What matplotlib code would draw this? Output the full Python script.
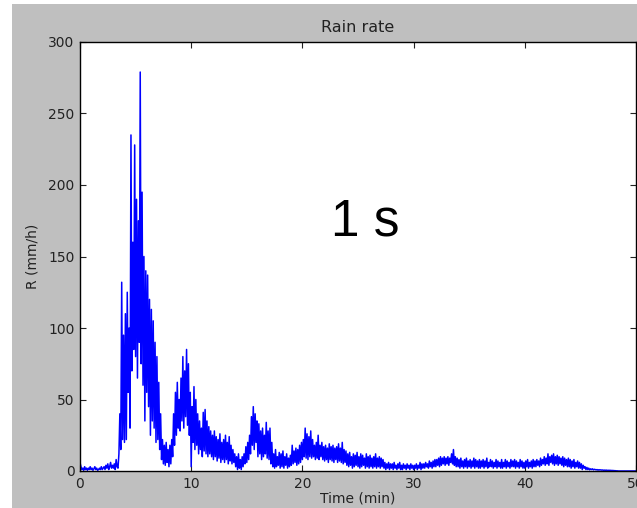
import numpy as np
import matplotlib
matplotlib.use("Agg")
import matplotlib.pyplot as plt
from matplotlib.patches import Rectangle

# Rain rate (mm/h), one value every 5 s; one row per minute
rate_00_10 = [
    6, 3, 1, 2, 0.5, 3, 1, 2, 0.5, 2, 1, 3,
    1, 2, 0.5, 1.5, 3, 1, 2, 0.5, 1, 2, 1, 3,
    1, 2, 3, 1, 4, 2, 5, 1, 3, 6, 2, 4,
    2, 5, 1, 8, 3, 2, 12, 40, 15, 132, 22, 95,
    20, 110, 22, 125, 55, 100, 30, 235, 70, 160, 85, 228,
    80, 190, 65, 175, 90, 279, 75, 195, 60, 150, 35, 140,
    55, 137, 45, 120, 25, 113, 35, 105, 30, 90, 20, 80,
    22, 62, 15, 40, 8, 22, 5, 18, 4, 20, 6, 15,
    3, 18, 5, 22, 10, 40, 18, 55, 25, 62, 30, 50,
    28, 65, 35, 80, 30, 70, 38, 85, 32, 75, 25, 55,
]
rate_10_20 = [
    3, 45, 20, 59, 15, 50, 18, 40, 12, 35, 15, 30,
    10, 41, 14, 43, 12, 35, 10, 31, 12, 28, 10, 25,
    8, 28, 10, 24, 7, 22, 9, 26, 6, 20, 8, 22,
    6, 25, 8, 20, 5, 24, 7, 18, 5, 15, 6, 12,
    3, 10, 1, 12, 2, 8, 1, 10, 3, 12, 5, 17,
    6, 20, 8, 25, 12, 38, 18, 45, 15, 40, 20, 35,
    10, 33, 12, 28, 8, 30, 10, 25, 12, 34, 9, 28,
    8, 30, 5, 20, 3, 12, 2, 15, 3, 10, 4, 13,
    2, 12, 3, 14, 2, 10, 4, 12, 2, 9, 3, 11,
    4, 18, 5, 14, 6, 16, 4, 15, 5, 18, 6, 20,
]
rate_20_30 = [
    8, 22, 10, 30, 9, 26, 8, 24, 10, 28, 9, 22,
    10, 18, 8, 20, 9, 25, 8, 18, 10, 20, 8, 17,
    7, 18, 8, 16, 6, 19, 8, 17, 7, 18, 6, 16,
    8, 17, 6, 19, 7, 16, 6, 20, 5, 15, 6, 14,
    4, 12, 3, 13, 4, 10, 2, 12, 3, 11, 4, 13,
    3, 10, 2, 12, 3, 11, 4, 9, 2, 12, 3, 10,
    2, 11, 3, 9, 2, 10, 3, 12, 2, 9, 3, 10,
    2, 9, 3, 8, 2, 6, 1, 5, 2, 6, 1, 5,
    2, 5, 1, 6, 2, 4, 1, 5, 2, 6, 1, 4,
    1, 5, 2, 4, 1, 5, 2, 4, 1, 5, 2, 4,
]
rate_30_40 = [
    1, 4, 2, 5, 1, 4, 2, 6, 1, 5, 2, 5,
    2, 6, 3, 5, 2, 7, 3, 6, 2, 7, 3, 8,
    3, 8, 4, 9, 3, 10, 4, 9, 5, 10, 4, 9,
    5, 10, 4, 9, 6, 12, 5, 15, 4, 10, 3, 9,
    3, 8, 2, 9, 3, 7, 2, 8, 3, 9, 2, 7,
    3, 8, 2, 7, 3, 9, 2, 8, 3, 7, 2, 8,
    2, 7, 3, 8, 2, 7, 3, 9, 2, 6, 3, 8,
    3, 7, 2, 6, 3, 8, 2, 7, 3, 6, 2, 8,
    2, 6, 3, 8, 2, 7, 3, 6, 2, 8, 3, 7,
    3, 8, 2, 7, 3, 6, 2, 8, 3, 7, 2, 6,
]
rate_40_50 = [
    2, 7, 3, 8, 2, 6, 3, 7, 2, 8, 3, 7,
    3, 8, 4, 7, 3, 9, 4, 8, 5, 10, 4, 9,
    5, 12, 4, 10, 6, 11, 5, 12, 4, 10, 5, 11,
    4, 10, 5, 9, 4, 10, 3, 9, 4, 8, 3, 9,
    3, 8, 2, 7, 3, 8, 2, 6, 3, 7, 2, 6,
    2, 5, 1, 4, 2, 3, 1, 2.5, 1, 2, 0.8, 1.5,
    1, 1.5, 0.8, 1.2, 1, 0.8, 1, 0.6, 0.9, 0.7, 0.8, 0.6,
    0.7, 0.5, 0.6, 0.5, 0.6, 0.4, 0.5, 0.4, 0.5, 0.3, 0.4, 0.3,
    0.3, 0.2, 0.2, 0.1, 0.1, 0, 0, 0, 0, 0, 0, 0,
    0, 0, 0, 0, 0, 0, 0, 0, 0, 0, 0, 0, 0,
]

rate = np.array(rate_00_10 + rate_10_20 + rate_20_30 + rate_30_40 + rate_40_50,
                dtype=float)
t_min = np.arange(len(rate)) * 5.0 / 60.0   # 5 s steps -> minutes

x_ticks = [0, 10, 20, 30, 40, 50]
y_ticks = [0, 50, 100, 150, 200, 250, 300]

fig = plt.figure(figsize=(6.37, 5.08), dpi=100, facecolor="white")
# grey panel behind the plot, thin white margin on the left/top
fig.patches.append(Rectangle((12 / 637, 0), 1, 1 - 4 / 508,
                             transform=fig.transFigure, facecolor="#bfbfbf",
                             edgecolor="none", zorder=-10))

ax = fig.add_axes([80 / 637, 37 / 508, 556 / 637, 429 / 508])
ax.plot(t_min, rate, color="#0000ff", linewidth=1.1)

ax.set_xlim(0, 50)
ax.set_ylim(0, 300)
ax.set_xticks(x_ticks)
ax.set_yticks(y_ticks)
ax.tick_params(direction="in", length=4, top=True, right=True,
               labelsize=10, colors="#222222", pad=4)
for sp in ax.spines.values():
    sp.set_linewidth(1.0)
    sp.set_color("black")

ax.set_title("Rain rate", fontsize=11.5, color="#222222", pad=7)
ax.set_xlabel("Time (min)", fontsize=10, color="#222222", labelpad=1)
ax.set_ylabel("R (mm/h)", fontsize=10, color="#222222", labelpad=6)

ax.text(0.513, 0.58, "1 s", transform=ax.transAxes, ha="center", va="center",
        fontsize=37, family="Liberation Sans", color="black")

fig.savefig("out.png", dpi=100, facecolor=fig.get_facecolor())
